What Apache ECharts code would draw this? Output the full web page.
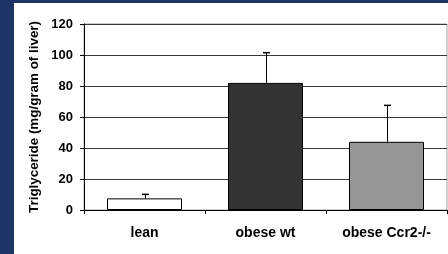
<!DOCTYPE html>
<html>
<head>
<meta charset="utf-8">
<script src="https://cdn.jsdelivr.net/npm/echarts@6/dist/echarts.min.js"></script>
<style>
  html, body { margin: 0; padding: 0; background: #1e3464; width: 448px; height: 254px; overflow: hidden; }
  #chart { position: absolute; left: 14px; top: 3px; width: 434px; height: 251px; background: #ffffff; }
</style>
</head>
<body>
<div id="chart"></div>
<script>
var categories = ['lean', 'obese wt', 'obese Ccr2-/-'];
var means = [7.5, 82, 44];
var errors = [2.6, 19.5, 23.5];
var barColors = ['#ffffff', '#333333', '#969696'];
var yTicks = [0, 20, 40, 60, 80, 100, 120];

var myChart = echarts.init(document.getElementById('chart'));
var font = 'Liberation Sans, Arial, sans-serif';

var barData = means.map(function (v, i) {
    return { value: v, itemStyle: { color: barColors[i] } };
});
var errData = means.map(function (v, i) {
    return [i, v, v + errors[i]];
});

var option = {
    animation: false,
    grid: {
        left: 70, right: 1, top: 21, bottom: 44,
        show: true, borderColor: '#a0a0a0', borderWidth: 1, backgroundColor: 'transparent'
    },
    xAxis: {
        type: 'category',
        data: categories,
        axisLine: { lineStyle: { color: '#000', width: 1 } },
        axisTick: { show: true, length: 4, lineStyle: { color: '#000' } },
        axisLabel: { color: '#000', fontFamily: font, fontWeight: 'bold', fontSize: 14, margin: 16 }
    },
    yAxis: {
        type: 'value',
        min: yTicks[0], max: yTicks[yTicks.length - 1], interval: 20,
        name: 'Triglyceride (mg/gram of liver)',
        nameLocation: 'middle',
        nameGap: 42,
        nameTextStyle: { color: '#000', fontFamily: font, fontWeight: 'bold', fontSize: 13.4 },
        axisLine: { show: true, lineStyle: { color: '#000', width: 1 } },
        axisTick: { show: true, length: 4, lineStyle: { color: '#000' } },
        axisLabel: { color: '#000', fontFamily: font, fontWeight: 'bold', fontSize: 13, margin: 11 },
        splitLine: { show: true, lineStyle: { color: '#3a3a3a', width: 1 } }
    },
    series: [
        {
            type: 'bar',
            data: barData,
            barCategoryGap: '38%',
            itemStyle: { borderColor: '#000', borderWidth: 1 },
            z: 3
        },
        {
            type: 'custom',
            data: errData,
            z: 4,
            renderItem: function (params, api) {
                var x = api.value(0);
                var low = api.coord([x, api.value(1)]);
                var high = api.coord([x, api.value(2)]);
                var cx = Math.round(low[0]) + 0.5;
                var half = 3.5;
                return {
                    type: 'group',
                    children: [
                        { type: 'line', shape: { x1: cx, y1: low[1], x2: cx, y2: high[1] }, style: { stroke: '#000', lineWidth: 1 } },
                        { type: 'line', shape: { x1: cx - half, y1: high[1], x2: cx + half, y2: high[1] }, style: { stroke: '#000', lineWidth: 1.5 } }
                    ]
                };
            }
        }
    ]
};
myChart.setOption(option);
</script>
</body>
</html>
